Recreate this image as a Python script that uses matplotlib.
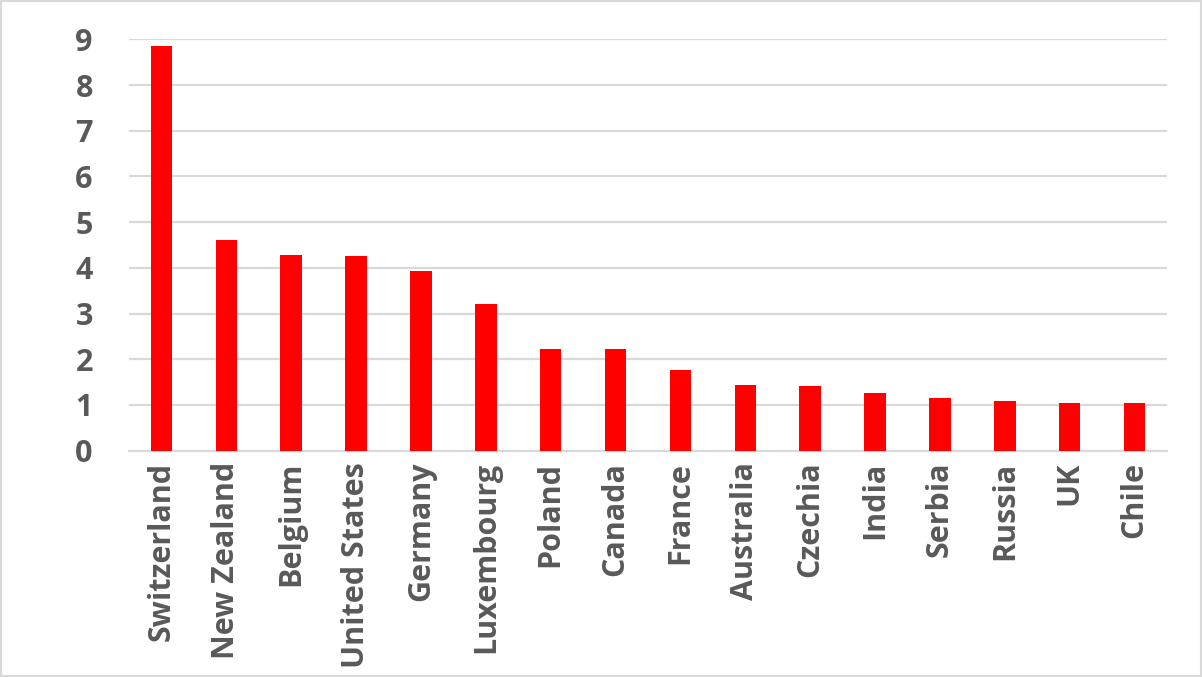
import matplotlib
matplotlib.use("Agg")
import matplotlib.pyplot as plt

# Values
countries = ["Switzerland", "New Zealand", "Belgium", "United States", "Germany",
             "Luxembourg", "Poland", "Canada", "France", "Australia", "Czechia",
             "India", "Serbia", "Russia", "UK", "Chile"]
values = [8.86, 4.61, 4.28, 4.26, 3.93, 3.20, 2.23, 2.22, 1.76, 1.43, 1.41,
          1.27, 1.15, 1.08, 1.04, 1.04]
yticks = list(range(0, 10))

plt.rcParams["font.family"] = ["Open Sans", "DejaVu Sans"]
text_color = "#595959"
grid_color = "#d9d9d9"

fig = plt.figure(figsize=(12.02, 6.77), dpi=100)
ax = fig.add_axes([0.1073, 0.3343, 0.8636, 0.6076])

x = range(len(countries))
ax.bar(x, values, width=0.33, color="#ff0000", zorder=3)

ax.set_xlim(-0.5, len(countries) - 0.5)
ax.set_ylim(0, 9)
ax.set_yticks(yticks)
ax.set_xticks(list(x))
ax.set_xticklabels(countries, rotation=90)

ax.yaxis.grid(True, color=grid_color, linewidth=1.6, zorder=0)
for side in ["top", "right", "left"]:
    ax.spines[side].set_visible(False)
ax.spines["bottom"].set_color(grid_color)
ax.spines["bottom"].set_linewidth(1.6)
ax.tick_params(axis="both", length=0, colors=text_color, labelsize=22)
ax.tick_params(axis="y", pad=26)
ax.tick_params(axis="x", pad=8)
for lbl in ax.get_xticklabels() + ax.get_yticklabels():
    lbl.set_fontweight("bold")

# light border around the whole chart
fig.patches.append(plt.Rectangle((0.001, 0.001), 0.998, 0.997, transform=fig.transFigure,
                                 fill=False, edgecolor=grid_color, linewidth=1.5))

fig.savefig("out.png", dpi=100)
